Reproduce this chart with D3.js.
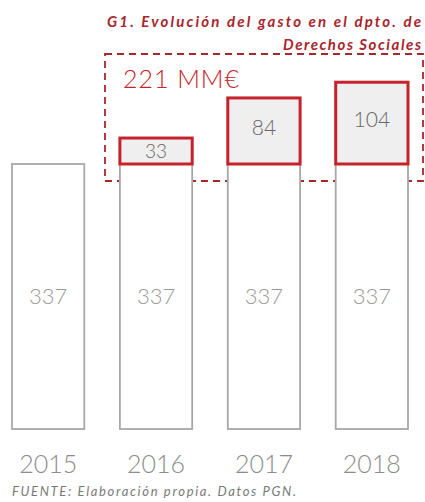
<!DOCTYPE html>
<html>
<head>
<meta charset="utf-8">
<script src="https://cdn.jsdelivr.net/npm/d3@7"></script>
<style>
  body { margin: 0; background: #fff; }
  svg { display: block; font-family: Lato, "Open Sans", sans-serif; }
</style>
</head>
<body>
<div id="chart"></div>
<script>
// Data
const years = ['2015', '2016', '2017', '2018'];
const baseValues = [337, 337, 337, 337];   // grey bars
const extraValues = [0, 33, 84, 104];      // red boxes on top
const totalLabel = '221 MM€';
const titleLines = ['G1. Evolución del gasto en el dpto. de', 'Derechos Sociales'];
const sourceText = 'FUENTE: Elaboración propia. Datos PGN.';

const width = 425, height = 502;
const red = '#c5222b', darkRed = '#a8262c';

const svg = d3.select('#chart').append('svg')
    .attr('width', width)
    .attr('height', height);

const x = d3.scaleBand()
    .domain(years)
    .range([12, 408])
    .paddingInner(0.33)
    .paddingOuter(0);

const y = d3.scaleLinear()
    .domain([0, 337])
    .range([429, 164]);

// Title (right aligned, stretched like the wide original face)
const titleWidths = [314, 138];
svg.append('g').selectAll('text').data(titleLines).join('text')
    .attr('x', (d, i) => 421 - titleWidths[i])
    .attr('y', (d, i) => 27 + i * 23)
    .attr('textLength', (d, i) => titleWidths[i])
    .attr('lengthAdjust', 'spacing')
    .attr('fill', darkRed)
    .attr('font-size', 15)
    .attr('font-weight', 'bold')
    .attr('font-style', 'italic')
    .text(d => d);

// Dashed highlight box
svg.append('rect')
    .attr('x', 105).attr('y', 54)
    .attr('width', 318).attr('height', 127)
    .attr('fill', 'none')
    .attr('stroke', darkRed)
    .attr('stroke-width', 1.8)
    .attr('stroke-dasharray', '7,5');

svg.append('text')
    .attr('x', 123).attr('y', 88)
    .attr('fill', red)
    .attr('font-size', 25)
    .attr('font-weight', 300)
    .attr('textLength', 116)
    .attr('lengthAdjust', 'spacing')
    .text(totalLabel);

// Grey base bars
svg.append('g').selectAll('rect').data(years).join('rect')
    .attr('x', d => x(d))
    .attr('y', (d, i) => y(baseValues[i]))
    .attr('width', x.bandwidth())
    .attr('height', (d, i) => y(0) - y(baseValues[i]))
    .attr('fill', '#fff')
    .attr('stroke', '#a8a8a8')
    .attr('stroke-width', 1.8);

svg.append('g').selectAll('text').data(years).join('text')
    .attr('x', d => x(d) + x.bandwidth() / 2)
    .attr('y', (d, i) => y(baseValues[i] / 2) + 7)
    .attr('text-anchor', 'middle')
    .attr('fill', '#9a9a9a')
    .attr('font-size', 22)
    .attr('font-weight', 300)
    .text((d, i) => baseValues[i]);

// Red increment boxes
const extra = years.map((d, i) => ({year: d, base: baseValues[i], value: extraValues[i]}))
    .filter(d => d.value > 0);

svg.append('g').selectAll('rect').data(extra).join('rect')
    .attr('x', d => x(d.year))
    .attr('y', d => y(d.base + d.value))
    .attr('width', x.bandwidth())
    .attr('height', d => y(d.base) - y(d.base + d.value))
    .attr('fill', '#efefef')
    .attr('stroke', red)
    .attr('stroke-width', 3);

svg.append('g').selectAll('text').data(extra).join('text')
    .attr('x', d => x(d.year) + x.bandwidth() / 2)
    .attr('y', d => y(d.base + d.value / 2) + (d.value < 50 ? 7 : 4))
    .attr('text-anchor', 'middle')
    .attr('fill', '#666')
    .attr('font-size', d => d.value < 50 ? 19 : 21)
    .attr('font-weight', 300)
    .text(d => d.value);

// Year labels
const axis = d3.axisBottom(x).tickSize(0).tickPadding(0);
const axisG = svg.append('g')
    .attr('transform', 'translate(0,451)')
    .call(axis);
axisG.select('.domain').remove();
axisG.selectAll('text')
    .attr('dy', 0)
    .attr('y', 22)
    .attr('fill', '#8c8c8c')
    .attr('font-size', 25)
    .attr('font-weight', 300)
    .attr('font-family', 'Lato, "Open Sans", sans-serif');

// Source
svg.append('text')
    .attr('x', 12).attr('y', 496)
    .attr('fill', '#7a7a7a')
    .attr('font-size', 13)
    .attr('font-style', 'italic')
    .attr('textLength', 284)
    .attr('lengthAdjust', 'spacing')
    .text(sourceText);
</script>
</body>
</html>
